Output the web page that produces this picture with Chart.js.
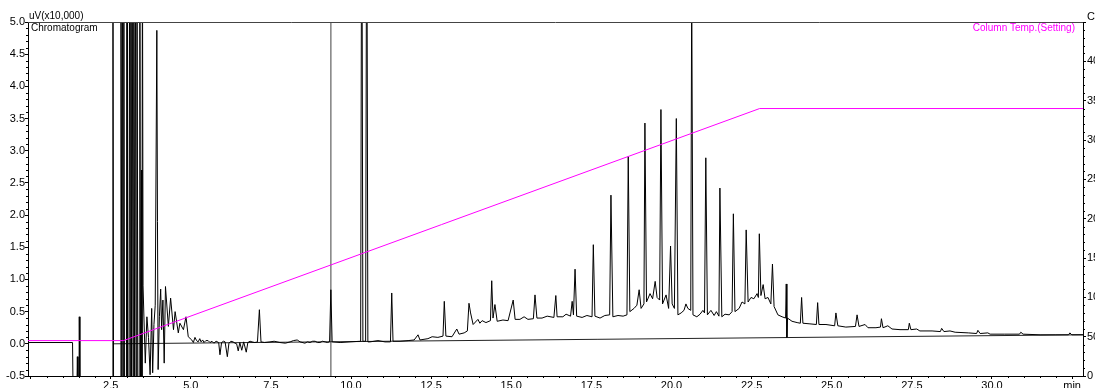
<!DOCTYPE html>
<html>
<head>
<meta charset="utf-8">
<title>Chromatogram</title>
<script src="https://cdn.jsdelivr.net/npm/chart.js@4/dist/chart.umd.min.js"></script>
<style>
  html, body { margin: 0; padding: 0; background: #fff; }
  #wrap { width: 1095px; height: 388px; position: relative; }
</style>
</head>
<body>
<div id="wrap"><canvas id="chromChart"></canvas></div>
<script>
// --- Chromatogram: retention time (min) / signal (uV x10,000) ---
const signalTime = [
  // start, negative drift below scale
  -0.08, 1.31, 1.33, 1.44, 1.46, 1.48, 1.51, 1.52, 1.54, 2.56, 2.57, 2.59,
  // solvent cluster
  2.81, 2.82, 2.85, 2.87, 2.89, 2.91, 2.93, 2.99, 3.01, 3.02, 3.07, 3.09, 3.11, 3.13, 3.15,
  3.17, 3.20, 3.22, 3.25, 3.27, 3.30, 3.32, 3.35, 3.39, 3.41, 3.43, 3.46, 3.475, 3.49, 3.51,
  // 3.5 - 5 min
  3.54, 3.58, 3.63, 3.68, 3.73, 3.78, 3.81, 3.85, 3.89, 3.94, 3.96, 3.98, 4.02, 4.06,
  4.09, 4.13, 4.17, 4.21, 4.30, 4.37, 4.46, 4.51, 4.61, 4.66, 4.77, 4.85, 4.92,
  // 5 - 9.4 min
  5.03, 5.08, 5.13, 5.18, 5.23, 5.28, 5.32, 5.37, 5.41, 5.47,
  5.54, 5.60, 5.66, 5.72, 5.79, 5.87, 5.91, 5.96, 6.02, 6.07,
  6.14, 6.19, 6.25, 6.32, 6.38, 6.43, 6.48, 6.53, 6.59, 6.65,
  6.73, 6.78, 6.85, 6.91, 7.00, 7.08, 7.14, 7.19, 7.30, 7.47,
  7.60, 7.78, 7.95, 8.10, 8.20, 8.32, 8.41, 8.56, 8.64, 8.72,
  8.80, 8.88, 8.95, 9.03, 9.11, 9.19, 9.26, 9.33, 9.37, 9.41,
  // 9.4 - 13 min
  9.66, 9.97, 10.30, 10.335, 10.37, 10.455, 10.49, 10.525, 10.59, 10.84, 11.06, 11.23,
  11.27, 11.31, 11.53, 11.78, 11.97, 12.09, 12.15, 12.40, 12.53, 12.71, 12.87, 12.91, 12.96,
  // 13 - 17 min
  13.15, 13.30, 13.37, 13.53, 13.63, 13.68, 13.73, 13.81, 13.96, 14.02, 14.09, 14.21,
  14.35, 14.39, 14.43, 14.49, 14.56, 14.74, 14.90, 15.06, 15.12, 15.27, 15.40, 15.52,
  15.69, 15.74, 15.80, 15.96, 16.12, 16.33, 16.39, 16.43, 16.61, 16.71, 16.85, 16.90,
  16.94, 16.99, 17.04,
  // 17 - 20.7 min
  17.21, 17.36, 17.52, 17.56, 17.61, 17.77, 17.92, 18.07, 18.11, 18.17, 18.33, 18.49,
  18.61, 18.65, 18.70, 18.83, 18.92, 18.99, 19.05, 19.14, 19.17, 19.22, 19.33, 19.41,
  19.49, 19.55, 19.63, 19.67, 19.72, 19.83, 19.91, 19.97, 20.02, 20.09, 20.15, 20.20,
  20.30, 20.39, 20.45, 20.51, 20.60, 20.63, 20.67,
  // 20.7 - 24 min
  20.79, 20.89, 20.98, 21.03, 21.07, 21.12, 21.23, 21.33, 21.40, 21.48, 21.51, 21.57,
  21.67, 21.80, 21.89, 21.93, 21.98, 22.11, 22.20, 22.29, 22.33, 22.39, 22.48, 22.57,
  22.67, 22.71, 22.74, 22.79, 22.86, 22.92, 23.01, 23.10, 23.15, 23.20, 23.32, 23.45,
  23.56, 23.58, 23.60, 23.62, 23.76, 23.92,
  // 24 min - end
  24.02, 24.06, 24.10, 24.32, 24.52, 24.56, 24.60, 24.82, 25.09, 25.13, 25.19, 25.44,
  25.74, 25.79, 25.85, 26.04, 26.13, 26.38, 26.52, 26.55, 26.60, 26.75, 26.88, 27.13,
  27.39, 27.42, 27.47, 27.65, 27.75, 28.13, 28.39, 28.43, 28.50, 28.69, 28.85, 29.26,
  29.52, 29.56, 29.63, 29.87, 29.94, 30.40, 30.86, 30.90, 30.97, 31.50, 31.97, 32.39,
  32.43, 32.49, 32.84
];
const signalValue = [
  0.02, 0.02, -0.9, -0.9, -0.2, -0.9, -0.9, 0.42, -0.9, -0.9, 6.5, -0.9,
  -0.9, 6.5, -0.9, 6.5, -0.9, 6.5, -0.9, -0.9, 6.5, -0.9, -0.9, 6.5, -0.9, 6.5, -0.9,
  6.5, -0.9, 6.5, -0.9, 6.5, -0.9, 6.5, -0.9, -0.9, 6.5, -0.9, 2.7, -0.9, 6.5, 0.9,
  0.37, -0.3, 0.42, 0.1, -0.48, 0.55, -0.45, 0.3, 0.6, 4.87, 1.9, -0.4, 0.42, 0.85,
  0.22, 0.68, -0.3, 0.89, 0.27, 0.71, 0.22, 0.5, 0.17, 0.32, 0.22, 0.42, 0.11,
  0.06, 0.02, 0.1, 0.05, 0.03, 0.08, 0.03, 0.06, 0.02, 0.05,
  0.05, 0.02, 0.04, 0.01, 0.04, 0.02, -0.17, 0.02, 0.04, 0.03,
  -0.2, 0.01, 0.04, 0.03, 0.01, 0.0, -0.11, 0.02, -0.1, 0.03,
  -0.13, 0.02, 0.04, 0.03, 0.02, 0.03, 0.53, 0.03, 0.02, 0.03,
  0.04, 0.02, 0.01, 0.03, 0.05, 0.06, 0.03, 0.01, 0.03, 0.02,
  0.04, 0.04, 0.02, 0.02, 0.04, 0.03, 0.02, 0.03, 0.84, 0.03,
  0.02, 0.03, 0.04, 8, 0.04, 0.04, 8, 0.03, 0.03, 0.05, 0.03, 0.03,
  0.79, 0.04, 0.04, 0.05, 0.06, 0.14, 0.06, 0.08, 0.11, 0.1, 0.12, 0.66, 0.12,
  0.11, 0.23, 0.15, 0.17, 0.2, 0.63, 0.48, 0.3, 0.38, 0.32, 0.36, 0.33,
  0.36, 0.98, 0.4, 0.61, 0.35, 0.37, 0.36, 0.68, 0.38, 0.38, 0.42, 0.38,
  0.39, 0.76, 0.4, 0.4, 0.43, 0.41, 0.75, 0.42, 0.42, 0.46, 0.43, 0.66,
  0.45, 1.16, 0.43,
  0.41, 0.44, 0.42, 1.54, 0.43, 0.4, 0.44, 0.45, 2.31, 0.42, 0.44, 0.43,
  0.45, 2.91, 0.5, 0.55, 0.6, 0.84, 0.55, 0.62, 3.43, 0.65, 0.78, 0.7,
  0.97, 0.72, 0.68, 3.64, 0.62, 0.76, 0.55, 1.52, 0.62, 0.55, 3.5, 0.45,
  0.48, 0.52, 0.62, 0.55, 0.52, 5.6, 0.45,
  0.42, 0.46, 0.52, 0.48, 2.89, 0.45, 0.52, 0.44, 0.5, 0.43, 2.42, 0.42,
  0.46, 0.45, 0.5, 2.02, 0.5, 0.55, 0.65, 0.62, 1.77, 0.65, 0.72, 0.7,
  0.78, 0.72, 1.71, 0.75, 0.92, 0.7, 0.72, 0.62, 1.24, 0.58, 0.45, 0.42,
  0.4, 0.93, 0.1, 0.4, 0.35, 0.33,
  0.32, 0.72, 0.32, 0.31, 0.3, 0.64, 0.3, 0.3, 0.28, 0.48, 0.28, 0.26,
  0.27, 0.45, 0.27, 0.3, 0.25, 0.25, 0.26, 0.39, 0.25, 0.28, 0.23, 0.22,
  0.22, 0.32, 0.22, 0.23, 0.2, 0.2, 0.19, 0.24, 0.19, 0.2, 0.18, 0.17,
  0.16, 0.21, 0.16, 0.17, 0.15, 0.15, 0.15, 0.18, 0.15, 0.14, 0.14, 0.14,
  0.17, 0.14, 0.14
];

// --- Column temperature program (setting), deg C ---
const tempTime = [-0.08, 2.9, 22.75, 32.84];
const tempValue = [45, 45, 340, 340];

// --- drift baseline and event marker ---
const baselineTime = [2.57, 32.84];
const baselineValue = [0.0, 0.14];
const markerTime = [9.37];

// --- axes ---
const timeRange = [-0.08, 32.84];
const signalRange = [-0.5, 5.0];
const tempRange = [0, 450];

const FONT = '"Liberation Sans", Arial, sans-serif';
Chart.defaults.font.family = FONT;

const toPoints = (xs, ys) => xs.map((x, i) => ({ x, y: ys[i] }));

// frame top, minor ticks and the small captions
const decorations = {
  id: 'decorations',
  afterDraw(chart) {
    const { ctx, chartArea: a, scales } = chart;
    ctx.save();
    ctx.lineWidth = 1;
    ctx.strokeStyle = '#444';
    ctx.beginPath();
    ctx.moveTo(a.left, a.top + 0.5);
    ctx.lineTo(a.right, a.top + 0.5);
    ctx.stroke();

    ctx.strokeStyle = '#000';
    ctx.beginPath();
    for (let i = 0; i * 0.5 <= scales.x.max; i++) {
      if (i % 5 === 0) continue;
      const px = Math.round(scales.x.getPixelForValue(i * 0.5)) + 0.5;
      ctx.moveTo(px, a.bottom); ctx.lineTo(px, a.bottom + 2);
    }
    for (let i = -5; i <= 50; i++) {
      if (i % 5 === 0) continue;
      const py = Math.round(scales.y.getPixelForValue(i / 10)) + 0.5;
      ctx.moveTo(a.left, py); ctx.lineTo(a.left - 2, py);
    }
    for (let i = 0; i <= 45; i++) {
      if (i % 5 === 0) continue;
      const py = Math.round(scales.y2.getPixelForValue(i * 10)) + 0.5;
      ctx.moveTo(a.right, py); ctx.lineTo(a.right + 2, py);
    }
    ctx.stroke();

    ctx.font = '10px ' + FONT;
    ctx.textBaseline = 'alphabetic';
    ctx.fillStyle = '#000';
    ctx.textAlign = 'left';
    ctx.fillText('uV(x10,000)', a.left + 1, a.top - 3);
    ctx.fillText('Chromatogram', a.left + 3, a.top + 9);
    ctx.fillStyle = '#ff00ff';
    ctx.textAlign = 'right';
    ctx.fillText('Column Temp.(Setting)', a.right - 8, a.top + 9);
    ctx.fillStyle = '#000';
    ctx.textAlign = 'left';
    ctx.font = '11px ' + FONT;
    ctx.fillText('C', a.right + 4, a.top - 2);
    ctx.restore();
  }
};

const tickFont = { family: FONT, size: 11 };

new Chart(document.getElementById('chromChart'), {
  type: 'line',
  data: {
    datasets: [
      {
        label: 'Column Temp.(Setting)',
        data: toPoints(tempTime, tempValue),
        yAxisID: 'y2',
        borderColor: '#ff00ff',
        borderWidth: 1,
        pointRadius: 0,
        clip: 0
      },
      {
        label: 'Chromatogram',
        data: toPoints(signalTime, signalValue),
        yAxisID: 'y',
        borderColor: '#000000',
        borderWidth: 1,
        pointRadius: 0,
        clip: 0
      },
      {
        label: 'Baseline',
        data: toPoints(baselineTime, baselineValue),
        yAxisID: 'y',
        borderColor: '#222222',
        borderWidth: 1,
        pointRadius: 0,
        clip: 0
      },
      {
        label: 'Marker',
        data: [{ x: markerTime[0], y: signalRange[0] }, { x: markerTime[0], y: signalRange[1] }],
        yAxisID: 'y',
        borderColor: '#808080',
        borderWidth: 1.5,
        pointRadius: 0,
        clip: 0
      }
    ]
  },
  options: {
    responsive: true,
    maintainAspectRatio: false,
    animation: false,
    events: [],
    layout: { padding: { top: 22, left: 0, right: 0, bottom: 0 } },
    elements: { line: { tension: 0 } },
    plugins: { legend: { display: false }, tooltip: { enabled: false } },
    scales: {
      x: {
        type: 'linear',
        min: timeRange[0],
        max: timeRange[1],
        border: { color: '#000', width: 1 },
        grid: { display: true, drawOnChartArea: false, drawTicks: true, tickLength: 3, color: '#000' },
        ticks: {
          stepSize: 2.5,
          includeBounds: false,
          autoSkip: false,
          maxRotation: 0,
          padding: 0,
          color: '#000',
          font: tickFont,
          callback: (v) => (Math.abs(v) < 1e-6 ? '' : Math.abs(v - 32.5) < 1e-6 ? 'min' : Number(v).toFixed(1))
        },
        afterFit: (s) => { s.height = 12; }
      },
      y: {
        position: 'left',
        min: signalRange[0],
        max: signalRange[1],
        border: { color: '#000', width: 1 },
        grid: { display: true, drawOnChartArea: false, drawTicks: true, tickLength: 3, color: '#000' },
        ticks: {
          stepSize: 0.5,
          padding: 0,
          color: '#000',
          font: tickFont,
          callback: (v) => Number(v).toFixed(1)
        },
        afterFit: (s) => { s.width = 28; }
      },
      y2: {
        position: 'right',
        min: tempRange[0],
        max: tempRange[1],
        border: { color: '#000', width: 1 },
        grid: { display: true, drawOnChartArea: false, drawTicks: true, tickLength: 3, color: '#000' },
        ticks: {
          stepSize: 50,
          padding: 1,
          color: '#000',
          font: tickFont,
          callback: (v) => (v >= 450 ? '' : String(v))
        },
        afterFit: (s) => { s.width = 12; }
      }
    }
  },
  plugins: [decorations]
});
</script>
</body>
</html>
